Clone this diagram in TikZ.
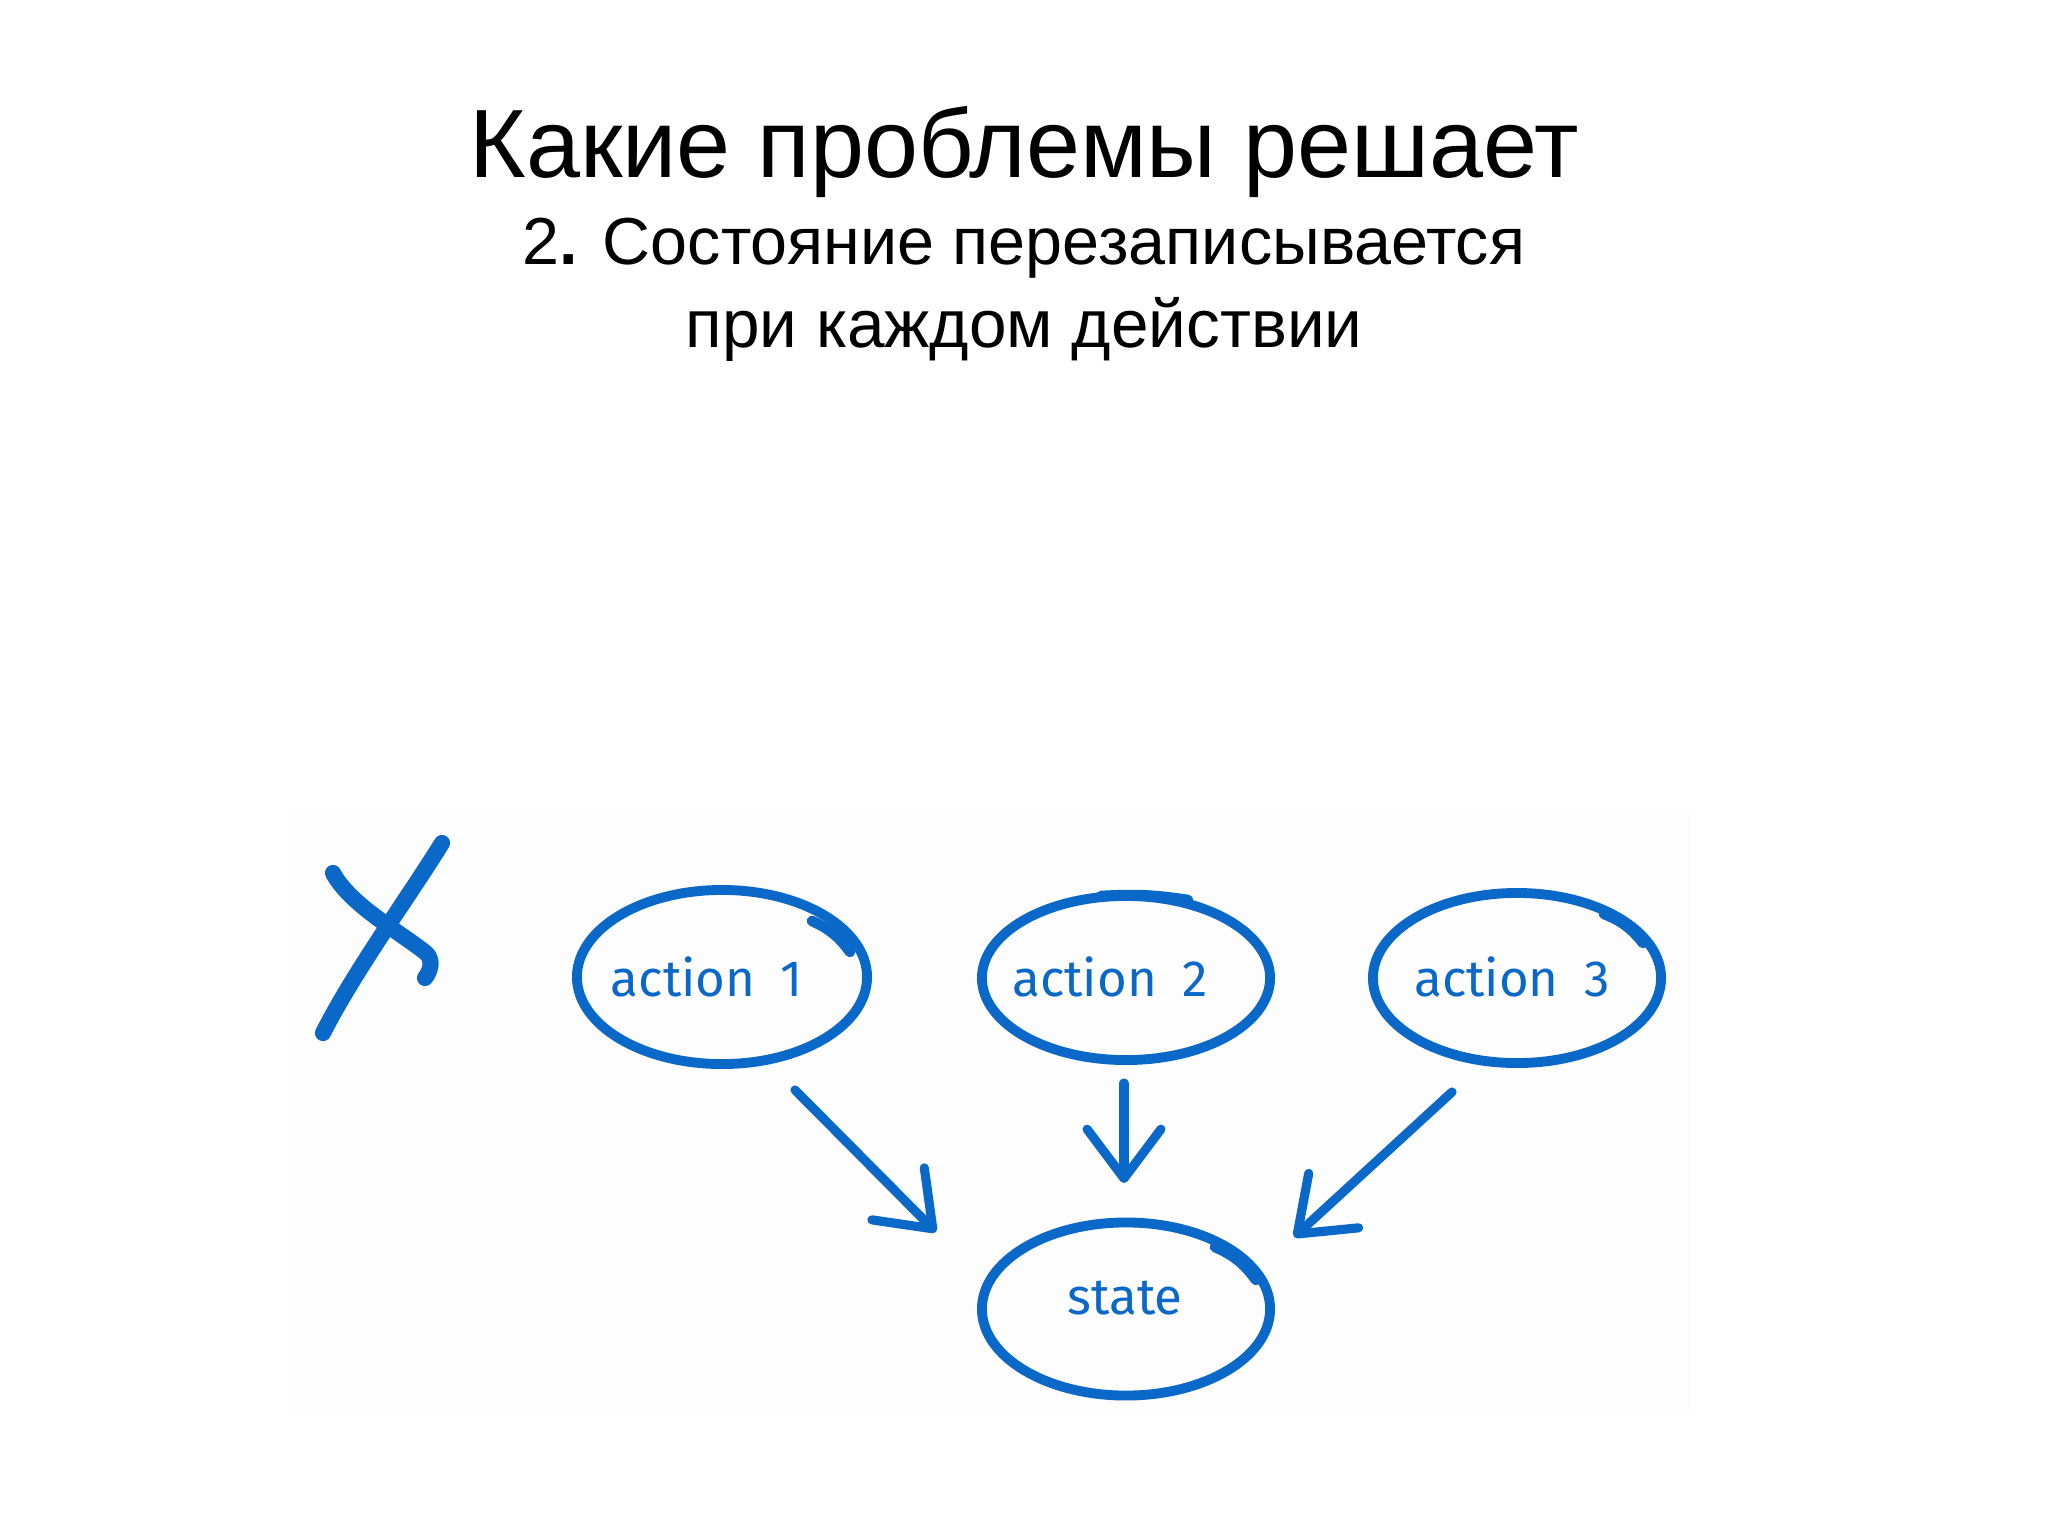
\documentclass[tikz,border=0pt]{standalone}
\usepackage{fontspec}
\setmainfont{Liberation Sans}
\newfontfamily\handfont{Fira Sans}
\usetikzlibrary{shapes.geometric,arrows.meta}
\definecolor{pen}{RGB}{10,104,200}
\tikzset{
  bubble/.style={ellipse, draw=pen, line width=2.8pt, inner sep=0pt},
  penline/.style={draw=pen, line width=2.6pt, line cap=round, line join=round},
  tailstroke/.style={penline, line width=3pt},
  flow/.style={penline, -{Straight Barb[length=14pt,width=21pt,round]}},
  xstroke/.style={draw=pen, line width=4.6pt, line cap=round, line join=round},
  heading/.style={anchor=base, text=black},
  label/.style={text=pen, font=\handfont\fontsize{14.5}{17}\selectfont},
}
\begin{document}
\begin{tikzpicture}[x=0.01cm,y=-0.01cm]
\useasboundingbox[fill=white] (0,0) rectangle (2048,1536);
\fill[black!0.8] (287,812) rectangle (1691,1411);

\node[heading, font=\fontsize{27.6}{32}\selectfont] (title) at (1024,177) {Какие проблемы решает};
\node[heading, font=\fontsize{18.9}{22}\selectfont] (sub1) at (1024,264) {2\textbf{.} Состояние перезаписывается};
\node[heading, font=\fontsize{19.2}{22}\selectfont] (sub2) at (1024,347) {при каждом действии};

% nodes
\node[bubble, minimum width=2.9cm, minimum height=1.74cm] (a1) at (722,977) {};
\node[bubble, minimum width=2.88cm, minimum height=1.64cm] (a2) at (1126,978) {};
\node[bubble, minimum width=2.88cm, minimum height=1.7cm] (a3) at (1517,978) {};
\node[bubble, minimum width=2.88cm, minimum height=1.73cm] (st) at (1126,1309) {};

\node[label] (t1) at (707,977) {action\hspace{0.5em}1};
\node[label] (t2) at (1110,977) {action\hspace{0.5em}2};
\node[label] (t3) at (1512,977) {action\hspace{0.5em}3};
\node[label] (t4) at (1125,1298) {state};

% overlapping pen tails
\draw[tailstroke] ([shift={(90,-56)}]a1.center) to[bend left=15] ([shift={(128,-25)}]a1.center);
\draw[tailstroke] ([shift={(-25,-82)}]a2.center) to[bend left=6] ([shift={(62,-78)}]a2.center);
\draw[tailstroke] ([shift={(87,-64)}]a3.center) to[bend left=15] ([shift={(126,-35)}]a3.center);
\draw[tailstroke] ([shift={(89,-62)}]st.center) to[bend left=15] ([shift={(130,-29)}]st.center);

% arrows
\draw[flow] ([shift={(73,113)}]a1.center) -- ([shift={(-190,-77)}]st.center);
\draw[flow] ([shift={(-2,105)}]a2.center) -- ([shift={(-2,-126)}]st.center);
\draw[flow] ([shift={(-65,114)}]a3.center) -- ([shift={(168,-72)}]st.center);

% cross mark
\draw[xstroke] (442,843) .. controls (410,895) and (355,970) .. (323,1033);
\draw[xstroke] (333,873) .. controls (350,905) and (400,932) .. (426,953)
  .. controls (434,960) and (430,972) .. (425,978);
\end{tikzpicture}
\end{document}
